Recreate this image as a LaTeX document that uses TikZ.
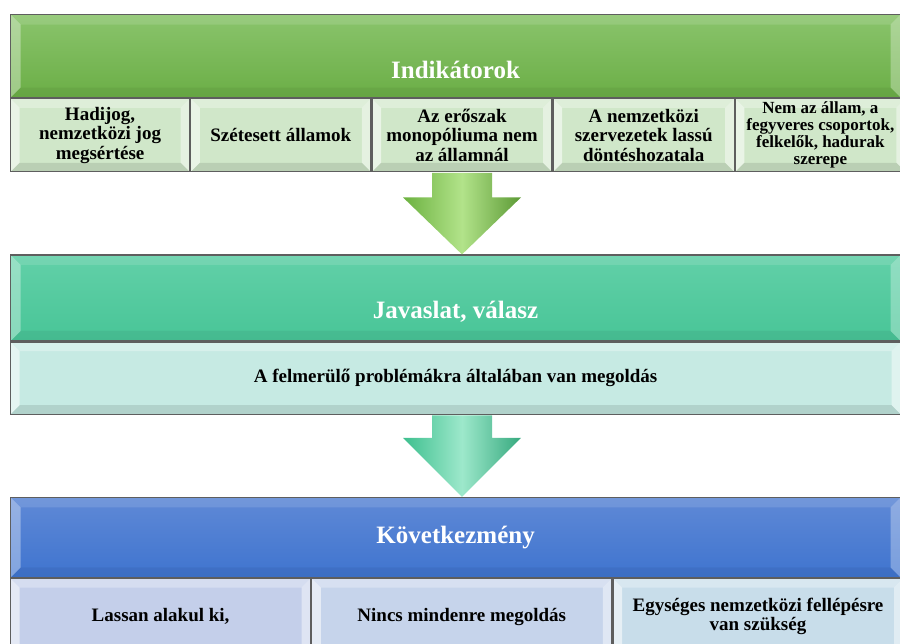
\documentclass[tikz,border=0pt]{standalone}
\usepackage{fontspec}
\setmainfont{Liberation Serif}
\usepackage{tikz}
\usetikzlibrary{positioning, calc}
\definecolor{grnTop}{HTML}{8AC46C}
\definecolor{grnBot}{HTML}{6BAE46}
\definecolor{grnCell}{HTML}{D0E7C9}
\definecolor{grnArL}{HTML}{6BB13F}
\definecolor{grnArM}{HTML}{B2E38A}
\definecolor{grnArR}{HTML}{5C9A35}
\definecolor{tealTop}{HTML}{62D0A8}
\definecolor{tealBot}{HTML}{48C597}
\definecolor{tealCell}{HTML}{C6EAE3}
\definecolor{tealArL}{HTML}{3DBF8E}
\definecolor{tealArM}{HTML}{9DE8CB}
\definecolor{tealArR}{HTML}{36A97E}
\definecolor{bluTop}{HTML}{5F89D6}
\definecolor{bluBot}{HTML}{3F74CF}
\definecolor{bluCellA}{HTML}{C4CFEA}
\definecolor{bluCellB}{HTML}{C6D4EB}
\definecolor{bluCellC}{HTML}{C8DDEA}
\definecolor{edge}{HTML}{5E5E5E}
% bevel facets: width, left, top, right, bottom opacity
\newcommand{\bevel}[5]{%
  \coordinate (pa) at (path picture bounding box.south west);
  \coordinate (pb) at (path picture bounding box.south east);
  \coordinate (pc) at (path picture bounding box.north east);
  \coordinate (pd) at (path picture bounding box.north west);
  \fill[white, opacity=#2] (pa) -- (pd) -- ($(pd)+(#1,-#1)$) -- ($(pa)+(#1,#1)$) -- cycle;
  \fill[white, opacity=#3] (pd) -- (pc) -- ($(pc)+(-#1,-#1)$) -- ($(pd)+(#1,-#1)$) -- cycle;
  \fill[white, opacity=#4] (pc) -- (pb) -- ($(pb)+(-#1,#1)$) -- ($(pc)+(-#1,-#1)$) -- cycle;
  \fill[black, opacity=#5] (pb) -- (pa) -- ($(pa)+(#1,#1)$) -- ($(pb)+(-#1,#1)$) -- cycle;}

\begin{document}
\begin{tikzpicture}[band/.style={draw=edge, line width=1.2pt, minimum width=890pt, path picture={\bevel{10pt}{.35}{.12}{.3}{.05}}},cell/.style={draw=edge, line width=1.2pt, minimum height=73pt, align=center, inner sep=2pt, font=\bfseries\fontsize{19}{19.5}\selectfont, path picture={\bevel{9pt}{.55}{.3}{.45}{.1}}},ttl/.style={font=\bfseries\fontsize{25}{25}\selectfont, text=white}]
\useasboundingbox (0,0) rectangle (900pt,-644pt);
% Indikatorok
\node[band, top color=grnTop, bottom color=grnBot, minimum height=83pt, anchor=north west] (ind) at (10pt,-14pt) {};
\node[ttl] at ([yshift=-14pt]ind.center) {Indikátorok};
\node[cell, fill=grnCell, minimum width=179pt, below=0pt of ind.south west, anchor=north west] (ind1) {Hadijog,\\nemzetközi jog\\megsértése};
\node[cell, fill=grnCell, minimum width=180pt, right=0pt of ind1] (ind2) {Szétesett államok};
\node[cell, fill=grnCell, minimum width=180pt, right=0pt of ind2] (ind3) {Az erőszak\\monopóliuma nem\\az államnál};
\node[cell, fill=grnCell, minimum width=181pt, right=0pt of ind3] (ind4) {A nemzetközi\\szervezetek lassú\\döntéshozatala};
\node[cell, fill=grnCell, minimum width=170pt, font=\bfseries\fontsize{17}{17}\selectfont, right=0pt of ind4] (ind5) {Nem az állam, a\\fegyveres csoportok,\\felkelők, hadurak\\szerepe};
% Javaslat
\node[band, top color=tealTop, bottom color=tealBot, minimum height=86pt, below=82pt of ind1.south west, anchor=north west] (jav) {};
\node[ttl] at ([yshift=-14pt]jav.center) {Javaslat, válasz};
\node[cell, fill=tealCell, minimum width=890pt, minimum height=72pt, below=0pt of jav] (javc) {A felmerülő problémákra általában van megoldás};
% Kovetkezmeny
\node[band, top color=bluTop, bottom color=bluBot, minimum height=80pt, below=82pt of javc.south west, anchor=north west] (kov) {};
\node[ttl] at (kov.center) {Következmény};
\node[cell, fill=bluCellA, minimum width=300pt, minimum height=76pt, below=0pt of kov.south west, anchor=north west] (kov1) {Lassan alakul ki,};
\node[cell, fill=bluCellB, minimum width=300pt, minimum height=76pt, right=0pt of kov1] (kov2) {Nincs mindenre megoldás};
\node[cell, fill=bluCellC, minimum width=290pt, minimum height=76pt, right=0pt of kov2] (kov3) {Egységes nemzetközi fellépésre\\van szükség};
% arrows
\path[left color=grnArL, right color=grnArR, middle color=grnArM] let \p1=([yshift=-0.6pt]ind3.south), \p2=(ind3.south |- jav.north) in (\x1-30pt,\y1) -- (\x1+30pt,\y1) -- (\x1+30pt,\y2+57pt) -- (\x1+59pt,\y2+57pt) -- (\x2,\y2) -- (\x1-59pt,\y2+57pt) -- (\x1-30pt,\y2+57pt) -- cycle;
\path[left color=tealArL, right color=tealArR, middle color=tealArM] let \p1=([yshift=-0.6pt]ind3.south |- javc.south), \p2=(ind3.south |- kov.north) in (\x1-30pt,\y1) -- (\x1+30pt,\y1) -- (\x1+30pt,\y2+59pt) -- (\x1+59pt,\y2+59pt) -- (\x2,\y2) -- (\x1-59pt,\y2+59pt) -- (\x1-30pt,\y2+59pt) -- cycle;
\end{tikzpicture}
\end{document}
